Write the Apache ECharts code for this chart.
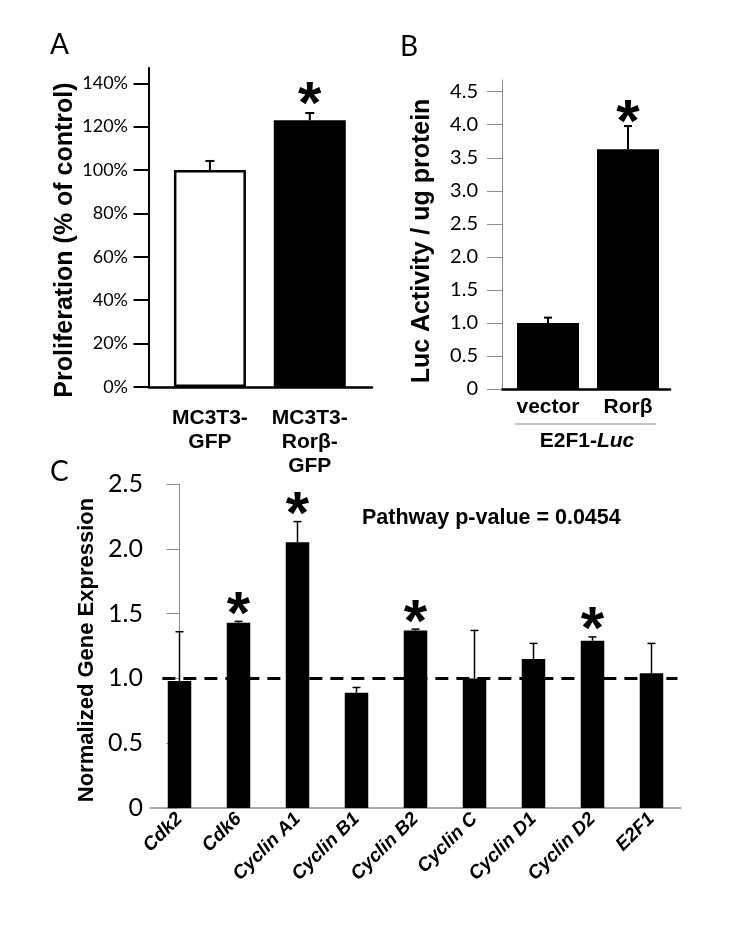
<!DOCTYPE html>
<html>
<head>
<meta charset="utf-8">
<title>Rorβ proliferation and cell cycle genes</title>
<script src="https://cdn.jsdelivr.net/npm/echarts@6/dist/echarts.min.js"></script>
<style>
  html, body { margin: 0; padding: 0; background: #fff; }
  #chart { width: 732px; height: 932px; }
</style>
</head>
<body>
<div id="chart"></div>
<script>
// ---- panel A: proliferation, % of control
const aCategories = ['MC3T3-\nGFP', 'MC3T3-\nRorβ-\nGFP'];
const aValues = [100, 123];
const aErrors = [4.2, 3.3];
const aStars = [false, true];
const aAxis = { min: 0, max: 140, step: 20 };

// ---- panel B: E2F1-Luc reporter
const bCategories = ['vector', 'Rorβ'];
const bValues = [1.0, 3.63];
const bErrors = [0.08, 0.35];
const bStars = [false, true];
const bAxis = { min: 0, max: 4.5, step: 0.5 };

// ---- panel C: normalized gene expression
const cCategories = ['Cdk2', 'Cdk6', 'Cyclin A1', 'Cyclin B1', 'Cyclin B2', 'Cyclin C', 'Cyclin D1', 'Cyclin D2', 'E2F1'];
const cValues = [0.98, 1.43, 2.05, 0.89, 1.37, 1.0, 1.15, 1.29, 1.04];
const cErrors = [0.38, 0.01, 0.16, 0.04, 0.01, 0.37, 0.12, 0.03, 0.23];
const cStars = [false, true, true, false, true, false, false, true, false];
const cAxis = { min: 0, max: 2.5, step: 0.5 };
const cBaseline = 1.0;

const ARIAL = '"Liberation Sans", Arial, sans-serif';
const CALIBRI = 'Lato, "Open Sans", sans-serif';
const GREY = '#8c8c8c';

function tickFmt(v) {
  return v === 0 ? '0' : v.toFixed(1);
}

// error bar (stem + cap) and optional star, drawn through the axis scales
function errorBar(capWidth, lineWidth, starGap) {
  return function (params, api) {
    const base = api.coord([api.value(0), api.value(1)]);
    const top = api.coord([api.value(0), api.value(1) + api.value(2)]);
    const style = { stroke: '#000', lineWidth: lineWidth };
    const children = [
      { type: 'line', shape: { x1: top[0], y1: base[1], x2: top[0], y2: top[1] }, style: style },
      { type: 'line', shape: { x1: top[0] - capWidth / 2, y1: top[1], x2: top[0] + capWidth / 2, y2: top[1] }, style: style }
    ];
    if (api.value(3)) {
      children.push({
        type: 'text', x: top[0], y: top[1] - starGap,
        style: { text: '*', fill: '#000', font: 'bold 60px ' + ARIAL, align: 'center', verticalAlign: 'middle', textAlign: 'center', textVerticalAlign: 'middle' }
      });
    }
    return { type: 'group', children: children };
  };
}

function errData(values, errors, stars) {
  return values.map((v, i) => [i, v, errors[i], stars[i] ? 1 : 0]);
}

// plain frame axis (only the line)
function frameAxis(grid, color, width) {
  return {
    gridIndex: grid, type: 'value', min: 0, max: 1,
    axisLine: { show: true, lineStyle: { color: color, width: width } },
    axisTick: { show: false }, axisLabel: { show: false }, splitLine: { show: false }
  };
}

const chart = echarts.init(document.getElementById('chart'), null, { renderer: 'canvas' });

const option = {
  animation: false,
  backgroundColor: '#fff',
  grid: [
    { left: 149, top: 68, width: 223, height: 319 },      // A frame
    { left: 160, top: 83.3, width: 199.7, height: 303.7 }, // A data
    { left: 502, top: 80, width: 168, height: 309 },      // B frame
    { left: 508, top: 91.7, width: 160, height: 297.3 },  // B data
    { left: 150, top: 484, width: 531, height: 324 }      // C
  ],
  xAxis: [
    frameAxis(0, '#000', 2.5),
    {
      gridIndex: 1, type: 'category', data: aCategories,
      axisLine: { show: false }, axisTick: { show: false },
      axisLabel: { color: '#000', fontFamily: ARIAL, fontWeight: 'bold', fontSize: 21, lineHeight: 24, margin: 19, interval: 0 }
    },
    frameAxis(2, '#000', 2.5),
    {
      gridIndex: 3, type: 'category', data: bCategories,
      axisLine: { show: false }, axisTick: { show: false },
      axisLabel: { color: '#000', fontFamily: ARIAL, fontWeight: 'bold', fontSize: 21, margin: 8, interval: 0 }
    },
    {
      gridIndex: 4, type: 'category', data: cCategories,
      axisLine: { show: true, lineStyle: { color: GREY, width: 1.5 } }, axisTick: { show: false },
      axisLabel: { color: '#000', fontFamily: ARIAL, fontWeight: 'bold', fontStyle: 'italic', fontSize: 19, rotate: 45, margin: 8, interval: 0 }
    },
    // hidden index axis for the dashed reference line
    { gridIndex: 4, type: 'value', min: -0.5, max: cCategories.length - 0.5, show: false }
  ],
  yAxis: [
    frameAxis(0, '#000', 2),
    {
      gridIndex: 1, type: 'value', min: aAxis.min, max: aAxis.max, interval: aAxis.step, offset: 11,
      axisLine: { show: false },
      axisTick: { show: true, length: 15.5, lineStyle: { color: '#000', width: 2 } },
      axisLabel: { color: '#000', fontFamily: CALIBRI, fontSize: 18, margin: 21, formatter: '{value}%' },
      splitLine: { show: false }
    },
    frameAxis(2, GREY, 1),
    {
      gridIndex: 3, type: 'value', min: bAxis.min, max: bAxis.max, interval: bAxis.step, offset: 6,
      axisLine: { show: false },
      axisTick: { show: true, length: 15, lineStyle: { color: GREY, width: 1 } },
      axisLabel: { color: '#000', fontFamily: CALIBRI, fontSize: 20, margin: 24, formatter: tickFmt },
      splitLine: { show: false }
    },
    {
      gridIndex: 4, type: 'value', min: cAxis.min, max: cAxis.max, interval: cAxis.step,
      axisLine: { show: true, lineStyle: { color: GREY, width: 1 } },
      axisTick: { show: true, length: 13, lineStyle: { color: GREY, width: 1 } },
      axisLabel: { color: '#000', fontFamily: CALIBRI, fontSize: 25, margin: 7, formatter: tickFmt },
      splitLine: { show: false }
    }
  ],
  series: [
    {
      type: 'bar', xAxisIndex: 1, yAxisIndex: 1, barWidth: 72,
      data: aValues.map((v, i) => ({
        value: v,
        itemStyle: i === 0 ? { color: '#fff', borderColor: '#000', borderWidth: 2.5 } : { color: '#000' }
      }))
    },
    {
      type: 'custom', xAxisIndex: 1, yAxisIndex: 1, z: 3,
      renderItem: errorBar(9, 2, 7), data: errData(aValues, aErrors, aStars)
    },
    {
      type: 'bar', xAxisIndex: 3, yAxisIndex: 3, barWidth: 62,
      itemStyle: { color: '#000' }, data: bValues
    },
    {
      type: 'custom', xAxisIndex: 3, yAxisIndex: 3, z: 3,
      renderItem: errorBar(8, 2, 2), data: errData(bValues, bErrors, bStars)
    },
    {
      type: 'bar', xAxisIndex: 4, yAxisIndex: 4, barWidth: 23.5,
      itemStyle: { color: '#000' }, data: cValues
    },
    {
      type: 'custom', xAxisIndex: 4, yAxisIndex: 4, z: 3,
      renderItem: errorBar(8, 1.5, 5), data: errData(cValues, cErrors, cStars)
    },
    {
      type: 'line', xAxisIndex: 5, yAxisIndex: 4, symbol: 'none', z: 4,
      lineStyle: { color: '#000', width: 3, type: [13, 8] },
      data: [[-0.29, cBaseline], [8.44, cBaseline]]
    }
  ],
  graphic: [
    { type: 'text', x: 50, y: 45, style: { text: 'A', font: '28px ' + CALIBRI, fill: '#000', textVerticalAlign: 'middle', verticalAlign: 'middle' } },
    { type: 'text', x: 400, y: 47, style: { text: 'B', font: '28px ' + CALIBRI, fill: '#000', textVerticalAlign: 'middle', verticalAlign: 'middle' } },
    { type: 'text', x: 50, y: 472, style: { text: 'C', font: '28px ' + CALIBRI, fill: '#000', textVerticalAlign: 'middle', verticalAlign: 'middle' } },
    {
      type: 'text', x: 65, y: 240, rotation: Math.PI / 2,
      style: { text: 'Proliferation (% of control)', font: 'bold 25px ' + ARIAL, fill: '#000', textAlign: 'center', align: 'center', textVerticalAlign: 'middle', verticalAlign: 'middle' }
    },
    {
      type: 'text', x: 422, y: 241, rotation: Math.PI / 2,
      style: { text: 'Luc Activity / ug protein', font: 'bold 25px ' + ARIAL, fill: '#000', textAlign: 'center', align: 'center', textVerticalAlign: 'middle', verticalAlign: 'middle' }
    },
    {
      type: 'text', x: 87, y: 650, rotation: Math.PI / 2,
      style: { text: 'Normalized Gene Expression', font: 'bold 22px ' + ARIAL, fill: '#000', textAlign: 'center', align: 'center', textVerticalAlign: 'middle', verticalAlign: 'middle' }
    },
    {
      type: 'text', x: 362, y: 518,
      style: { text: 'Pathway p-value = 0.0454', font: 'bold 21.5px ' + ARIAL, fill: '#000', textVerticalAlign: 'middle', verticalAlign: 'middle' }
    },
    // reporter bracket under panel B
    { type: 'line', shape: { x1: 515, y1: 424, x2: 656, y2: 424 }, style: { stroke: GREY, lineWidth: 1 } },
    {
      type: 'text', x: 587, y: 441,
      style: {
        text: '{b|E2F1-}{i|Luc}', textAlign: 'center', align: 'center', textVerticalAlign: 'middle', verticalAlign: 'middle',
        rich: {
          b: { fontFamily: ARIAL, fontWeight: 'bold', fontSize: 21, color: '#000' },
          i: { fontFamily: ARIAL, fontWeight: 'bold', fontStyle: 'italic', fontSize: 21, color: '#000' }
        }
      }
    }
  ]
};

chart.setOption(option);
</script>
</body>
</html>
